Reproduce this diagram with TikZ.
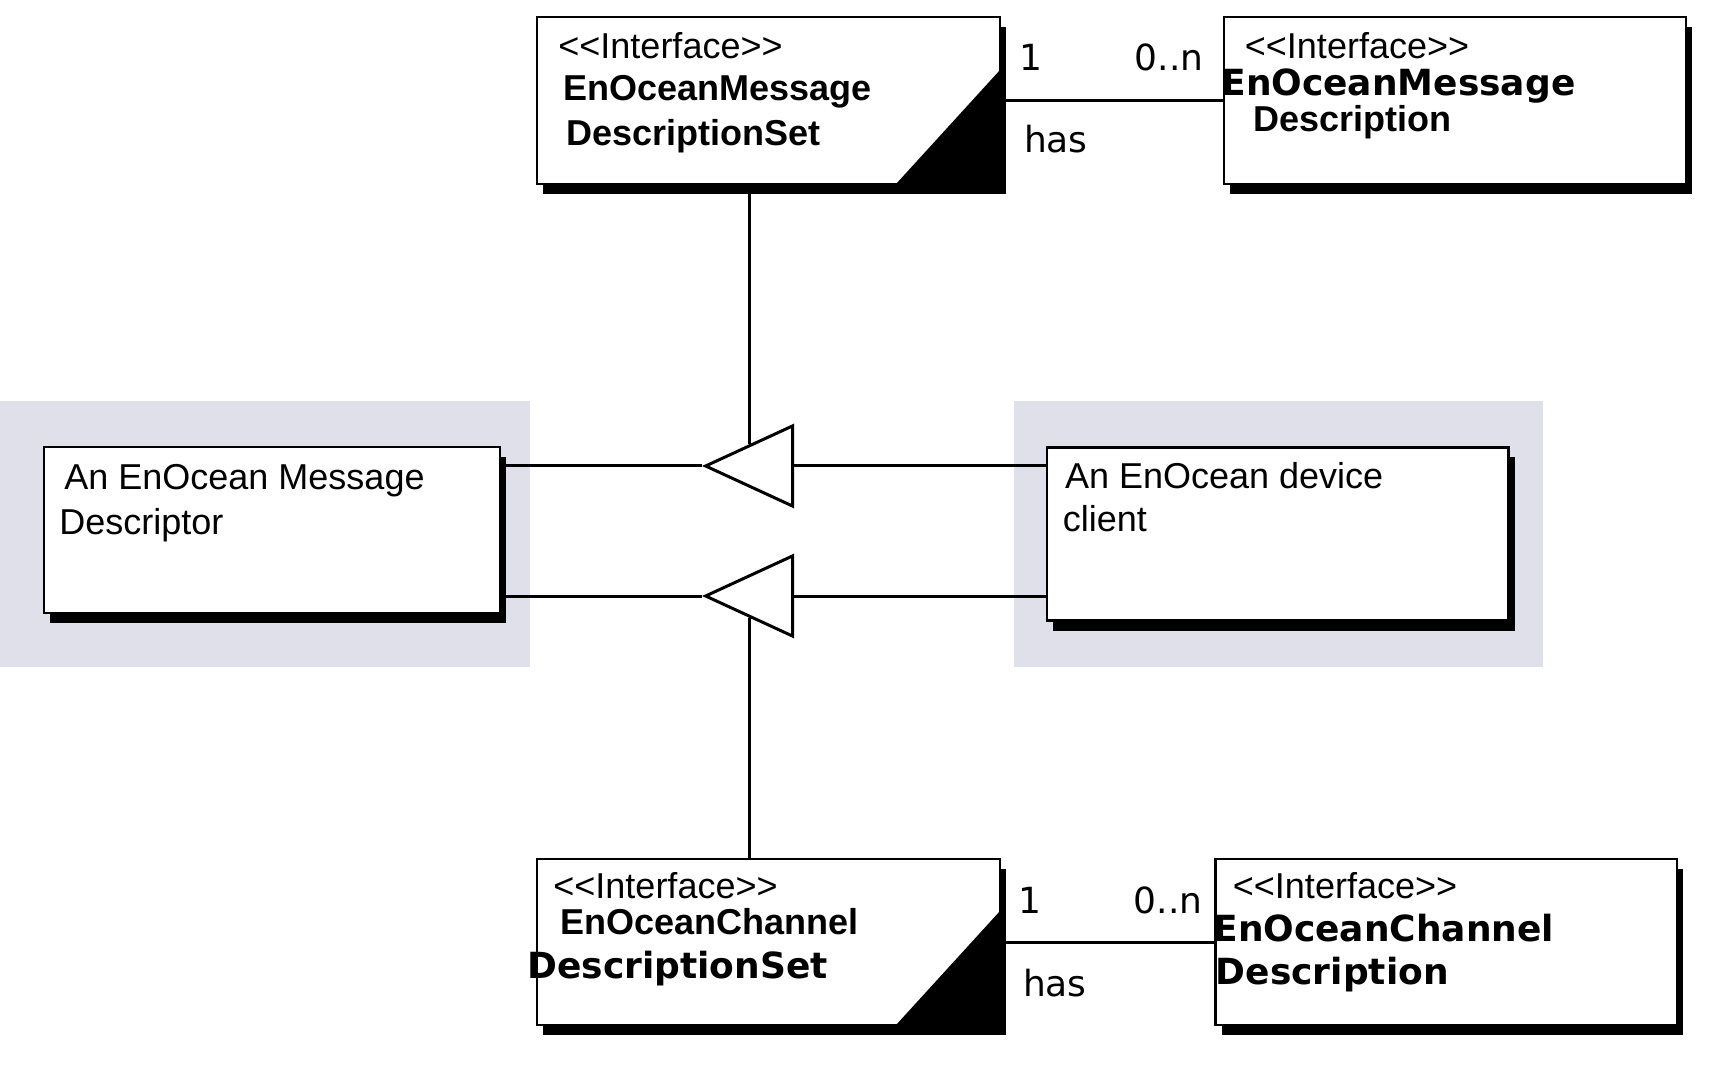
\documentclass[tikz,border=0pt]{standalone}
\usepackage{fontspec}
\setmainfont{Liberation Sans}
\newfontfamily\dejavu{DejaVu Sans}
\usetikzlibrary{positioning,calc,shadows,arrows.meta}
\definecolor{panelgray}{RGB}{224,224,234}

\begin{document}
\begin{tikzpicture}[x=0.5pt, y=-0.5pt, font=\fontsize{18}{21}\selectfont,
    umlbox/.style={draw, line width=1.2pt, fill=white, inner sep=0pt, outer sep=0pt,
        drop shadow={shadow xshift=3pt, shadow yshift=-5pt, fill=black, opacity=1}},
    conn/.style={line width=1.5pt},
    gen/.style={conn, -{Triangle[open, length=46pt, width=42pt]}},
    lbl/.style={inner sep=0pt, anchor=base west},
    boldlbl/.style={lbl, font=\fontsize{18}{21}\selectfont\bfseries},
    widelbl/.style={lbl, font=\fontsize{18}{21}\selectfont\dejavu\bfseries},
    multlbl/.style={lbl, font=\fontsize{18}{21}\selectfont\dejavu}]
    \useasboundingbox (0,0) rectangle (1716,1068);

    % grey panels
    \fill[panelgray] (0,401) rectangle (530,667);
    \fill[panelgray] (1014,401) rectangle (1543,667);

    % interfaces
    \node[umlbox, minimum width=231.5pt, minimum height=83.5pt] (mds) at (768.5,100.5) {};
    \fill (mds.south east) -- ++(-104,0) -- ++(104,-114) -- cycle;
    \node[umlbox, minimum width=231pt, minimum height=83.5pt] (md) at (1455,100.5) {};
    \node[umlbox, minimum width=231.5pt, minimum height=83pt] (cds) at (768.5,942) {};
    \fill (cds.south east) -- ++(-104,0) -- ++(104,-114) -- cycle;
    \node[umlbox, minimum width=230.7pt, minimum height=83pt] (cd) at (1446.3,942) {};

    % implementations
    \node[umlbox, minimum width=228pt, minimum height=83pt] (desc) at (272,530) {};
    \node[umlbox, minimum width=230.75pt, minimum height=86.5pt] (client) at (1277.75,534) {};

    \node[lbl] (mdsType) at (558,59) {<\kern0pt<Interface>\kern0pt>};
    \node[boldlbl] (mdsName) at (563,101) {EnOceanMessage};
    \node[boldlbl] (mdsNameB) at (566,146) {DescriptionSet};
    \node[lbl] (mdType) at (1244.5,59) {<\kern0pt<Interface>\kern0pt>};
    \node[widelbl] (mdName) at (1221,96) {EnOceanMessage};
    \node[boldlbl] (mdNameB) at (1253.5,132) {Description};
    \node[lbl] (cdsType) at (553,898) {<\kern0pt<Interface>\kern0pt>};
    \node[boldlbl] (cdsName) at (560,934) {EnOceanChannel};
    \node[widelbl] (cdsNameB) at (527,978) {DescriptionSet};
    \node[lbl] (cdType) at (1232.5,898) {<\kern0pt<Interface>\kern0pt>};
    \node[widelbl] (cdName) at (1213,941) {EnOceanChannel};
    \node[widelbl] (cdNameB) at (1215.5,984) {Description};
    \node[lbl] (descText) at (64,490) {An EnOcean Message};
    \node[lbl] (descTextB) at (59,535) {Descriptor};
    \node[lbl] (clientText) at (1064.6,489) {An EnOcean device};
    \node[lbl] (clientTextB) at (1062.5,531) {client};

    % associations
    \draw[conn] (mds.east) -- (md.west);
    \draw[conn] (cds.east) -- (cd.west);
    \node[multlbl] (mdsOne) at (1019,71) {1};
    \node[multlbl] (mdMany) at (1134.5,71) {0..n};
    \node[multlbl] (mdsHas) at (1023.6,153) {has};
    \node[multlbl] (cdsOne) at (1018,913) {1};
    \node[multlbl] (cdMany) at (1133.5,913) {0..n};
    \node[multlbl] (cdsHas) at (1022.6,996) {has};

    % generalisations
    \coordinate (tipA) at (702,466);
    \coordinate (tipB) at (702,596);
    \coordinate (edgeA) at (749,444);
    \coordinate (edgeB) at (749,618);
    \draw[gen] (client.west |- tipA) -- (tipA);
    \draw[gen] (client.west |- tipB) -- (tipB);
    \draw[conn] (desc.east |- tipA) -- (tipA);
    \draw[conn] (desc.east |- tipB) -- (tipB);
    \draw[conn] (mds.south -| edgeA) -- (edgeA);
    \draw[conn] (edgeB) -- (edgeB |- cds.north);
\end{tikzpicture}
\end{document}
